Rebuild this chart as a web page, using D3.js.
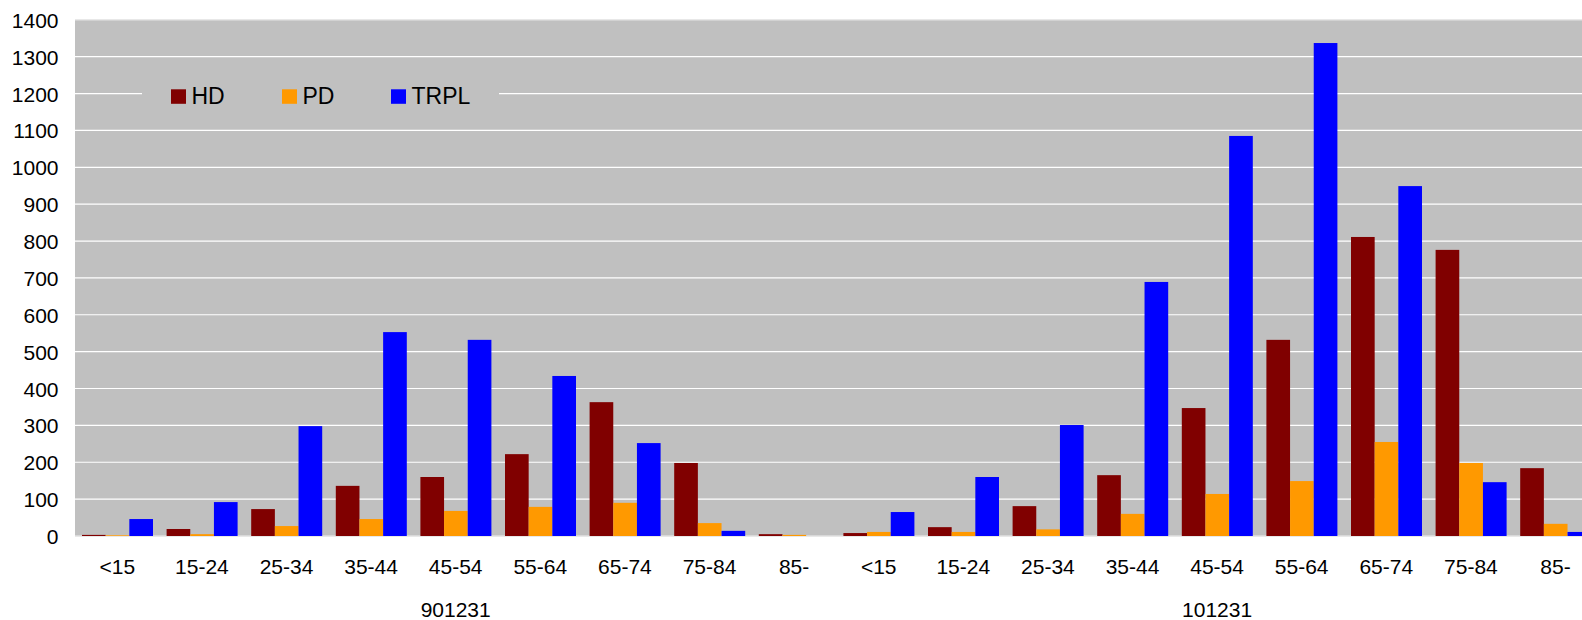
<!DOCTYPE html>
<html>
<head>
<meta charset="utf-8">
<script src="https://cdn.jsdelivr.net/npm/d3@7"></script>
<style>
  html, body { margin: 0; padding: 0; background: #ffffff; }
  svg { display: block; }
  text { font-family: "Liberation Sans", Arial, sans-serif; fill: #000; }
</style>
</head>
<body>
<svg id="chart" width="1582" height="620"></svg>
<script>
// Dates of the two snapshots and the age bands within each
const groups = ["901231", "101231"];
const ageBands = ["<15", "15-24", "25-34", "35-44", "45-54", "55-64", "65-74", "75-84", "85-"];
const seriesNames = ["HD", "PD", "TRPL"];
const seriesColors = ["#800000", "#FF9900", "#0000FF"];

// Counts per age band, first 901231 then 101231
const hd   = [3, 19, 73, 136, 160, 222, 363, 198, 5,   8, 24, 81, 165, 347, 532, 811, 776, 184];
const pd   = [2, 5, 27, 46, 68, 79, 90, 35, 3,         11, 11, 18, 60, 114, 149, 255, 198, 33];
const trpl = [46, 92, 298, 553, 532, 434, 252, 14, 0,  65, 160, 301, 689, 1085, 1337, 949, 146, 11];

const yTicks = [0, 100, 200, 300, 400, 500, 600, 700, 800, 900, 1000, 1100, 1200, 1300, 1400];

const seriesValues = [hd, pd, trpl];

const axisFont = 21;
const legendFont = 23;

// One row per (group, age band)
const rows = [];
groups.forEach((g, gi) => {
  ageBands.forEach((a, ai) => {
    const idx = gi * ageBands.length + ai;
    rows.push({
      key: g + "|" + a, group: g, band: a,
      values: seriesNames.map((s, si) => ({ series: s, color: seriesColors[si], value: seriesValues[si][idx] }))
    });
  });
});

const svg = d3.select("#chart");

const plotLeft = 75, step = 84.6;
const plotRight = plotLeft + rows.length * step;
const plotTop = 19.8, plotBottom = 536;

const x0 = d3.scaleBand().domain(rows.map(d => d.key)).range([plotLeft, plotRight]).padding(0);
const x1 = d3.scaleBand().domain(seriesNames).range([7, 78]).padding(0);
const y = d3.scaleLinear().domain([0, 1400]).range([plotBottom, plotTop]);

// Plot background
svg.append("rect")
  .attr("x", plotLeft).attr("y", plotTop)
  .attr("width", plotRight - plotLeft).attr("height", plotBottom - plotTop)
  .attr("fill", "#C0C0C0");

// Horizontal gridlines
svg.append("g")
  .selectAll("line")
  .data(yTicks.filter(t => t > 0))
  .join("line")
  .attr("x1", plotLeft).attr("x2", plotRight)
  .attr("y1", d => y(d)).attr("y2", d => y(d))
  .attr("stroke", d => d === 1400 ? "#e4e4e4" : "#ffffff")
  .attr("stroke-width", 1.2);

// Zero line
svg.append("line")
  .attr("x1", plotLeft).attr("x2", plotRight)
  .attr("y1", y(0)).attr("y2", y(0))
  .attr("stroke", "#e0e0e0").attr("stroke-width", 1.5);

// Bars
const cat = svg.append("g").selectAll("g")
  .data(rows)
  .join("g")
  .attr("transform", d => `translate(${x0(d.key)},0)`);

cat.selectAll("rect")
  .data(d => d.values)
  .join("rect")
  .attr("x", d => x1(d.series))
  .attr("width", x1.bandwidth())
  .attr("y", d => y(d.value))
  .attr("height", d => y(0) - y(d.value))
  .attr("fill", d => d.color);

// Y axis labels
const yAxis = d3.axisLeft(y).tickValues(yTicks).tickSize(0).tickPadding(0).tickFormat(d3.format("d"));
const yg = svg.append("g").attr("transform", `translate(58.5,0)`).call(yAxis);
yg.select(".domain").remove();
yg.selectAll("text")
  .attr("font-size", axisFont)
  .attr("font-family", '"Liberation Sans", Arial, sans-serif')
  .attr("fill", "#000")
  .attr("dy", "0.36em");

// Age band labels
const xAxis = d3.axisBottom(x0).tickSize(0).tickPadding(0).tickFormat(k => k.split("|")[1]);
const xg = svg.append("g").attr("transform", `translate(0,573.5)`).call(xAxis);
xg.select(".domain").remove();
xg.selectAll("text")
  .attr("font-size", axisFont)
  .attr("font-family", '"Liberation Sans", Arial, sans-serif')
  .attr("fill", "#000")
  .attr("y", 0).attr("dy", 0);

// Group labels centred under each set of age bands
svg.append("g").selectAll("text")
  .data(groups)
  .join("text")
  .attr("x", g => {
    const first = x0(g + "|" + ageBands[0]);
    const last = x0(g + "|" + ageBands[ageBands.length - 1]) + x0.bandwidth();
    return (first + last) / 2;
  })
  .attr("y", 617)
  .attr("text-anchor", "middle")
  .attr("font-size", axisFont)
  .text(d => d);

// Legend
const legend = svg.append("g");
legend.append("rect")
  .attr("x", 142).attr("y", 72).attr("width", 357).attr("height", 46)
  .attr("fill", "#C0C0C0");
const legendX = [171, 282, 391];
const items = legend.selectAll("g.item")
  .data(seriesNames)
  .join("g")
  .attr("class", "item")
  .attr("transform", (d, i) => `translate(${legendX[i]},0)`);
items.append("rect")
  .attr("x", 0).attr("y", 89.3)
  .attr("width", 15).attr("height", 14.5)
  .attr("fill", (d, i) => seriesColors[i]);
items.append("text")
  .attr("x", 20.5).attr("y", 104)
  .attr("font-size", legendFont)
  .text(d => d);
</script>
</body>
</html>
